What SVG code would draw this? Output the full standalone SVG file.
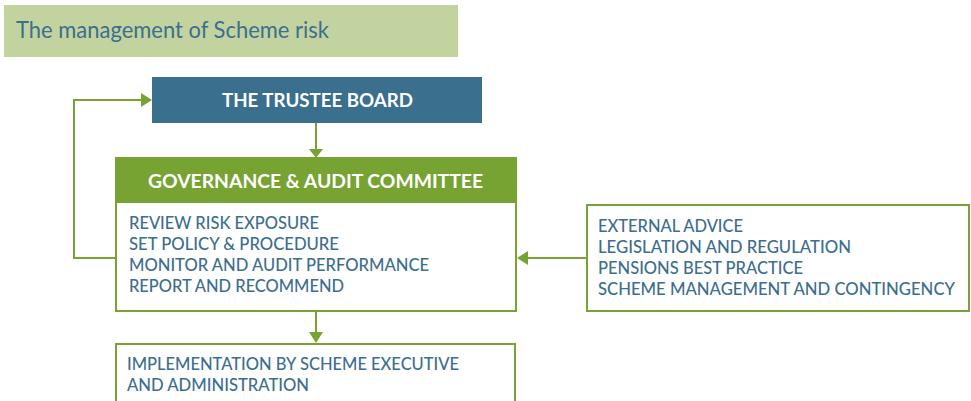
<svg xmlns="http://www.w3.org/2000/svg" width="971" height="401" viewBox="0 0 971 401">
<style>
.bt{font-family:"Lato","Liberation Sans",sans-serif;font-size:16.5px;font-weight:500;fill:#3c6e8e}
.hd{font-family:"Lato","Liberation Sans",sans-serif;font-size:19px;font-weight:700;fill:#ffffff}
.box{fill:#ffffff;stroke:#77a332;stroke-width:2}
.ln{fill:none;stroke:#77a332;stroke-width:2}
.ah{fill:#77a332}
</style>
<rect width="971" height="401" fill="#ffffff"/>
<g id="title">
<rect x="4" y="5" width="454" height="52" fill="#c3d3a0"/>
<text x="16" y="38" font-family="Lato,'Liberation Sans',sans-serif" font-size="22.5" fill="#3c6e8e" textLength="313" lengthAdjust="spacingAndGlyphs">The management of Scheme risk</text>
</g>
<g id="trustee-board">
<rect x="152" y="77" width="330" height="46" fill="#3a6f8e"/>
<text class="hd" x="222" y="107" textLength="191" lengthAdjust="spacingAndGlyphs">THE TRUSTEE BOARD</text>
</g>
<g id="governance">
<rect class="box" x="116" y="158" width="400" height="153"/>
<rect x="115" y="157" width="402" height="46" fill="#77a332"/>
<text class="hd" x="148" y="188" textLength="335" lengthAdjust="spacingAndGlyphs">GOVERNANCE &amp; AUDIT COMMITTEE</text>
<text class="bt" x="129" y="229" textLength="190" lengthAdjust="spacingAndGlyphs">REVIEW RISK EXPOSURE</text>
<text class="bt" x="129" y="250" textLength="210" lengthAdjust="spacingAndGlyphs">SET POLICY &amp; PROCEDURE</text>
<text class="bt" x="129" y="271" textLength="300" lengthAdjust="spacingAndGlyphs">MONITOR AND AUDIT PERFORMANCE</text>
<text class="bt" x="129" y="292" textLength="215" lengthAdjust="spacingAndGlyphs">REPORT AND RECOMMEND</text>
</g>
<g id="external">
<rect class="box" x="587" y="205" width="382" height="106"/>
<text class="bt" x="598" y="232" textLength="145" lengthAdjust="spacingAndGlyphs">EXTERNAL ADVICE</text>
<text class="bt" x="598" y="253" textLength="253" lengthAdjust="spacingAndGlyphs">LEGISLATION AND REGULATION</text>
<text class="bt" x="598" y="274" textLength="205" lengthAdjust="spacingAndGlyphs">PENSIONS BEST PRACTICE</text>
<text class="bt" x="598" y="295" textLength="357" lengthAdjust="spacingAndGlyphs">SCHEME MANAGEMENT AND CONTINGENCY</text>
</g>
<g id="implementation">
<rect class="box" x="116" y="344" width="399" height="70"/>
<text class="bt" x="127" y="370" textLength="332" lengthAdjust="spacingAndGlyphs">IMPLEMENTATION BY SCHEME EXECUTIVE</text>
<text class="bt" x="127" y="391" textLength="182" lengthAdjust="spacingAndGlyphs">AND ADMINISTRATION</text>
</g>
<g id="connectors">
<line class="ln" x1="316" y1="123" x2="316" y2="149"/>
<polygon class="ah" points="309,149 323,149 316,158"/>
<polyline class="ln" points="115,258 74,258 74,100 141,100"/>
<polygon class="ah" points="141,93 141,107 152,100"/>
<line class="ln" x1="587" y1="258" x2="528" y2="258"/>
<polygon class="ah" points="528,251 528,265 517,258"/>
<line class="ln" x1="316" y1="312" x2="316" y2="332"/>
<polygon class="ah" points="309,332 323,332 316,343"/>
</g>
</svg>
